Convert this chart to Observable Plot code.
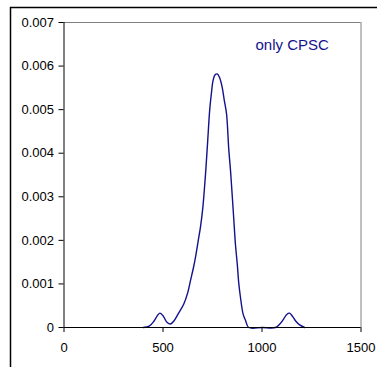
<!DOCTYPE html>
<html><head><meta charset="utf-8">
<script src="https://cdn.jsdelivr.net/npm/d3@7"></script>
<script src="https://cdn.jsdelivr.net/npm/@observablehq/plot@0.6"></script>
<style>body{margin:0;background:#fff;} #c{position:relative;width:377px;height:367px;overflow:hidden;}</style>
</head><body><div id="c"></div>
<script>
const xs = [400,430,455,470,484,500,520,538,555,575,605,625,639,655,664,680,689,700,706,716,726,736,745,753,763,774,787,799,810,821,832,841,850,858,866,875,883,891,905,917,933,1000,1068,1090,1110,1125,1139,1155,1170,1190,1215];
const ys = [0,0.00003,0.00015,0.00026,0.00033,0.00027,0.00012,0.00008,0.00015,0.0003,0.00054,0.0008,0.00108,0.0014,0.00161,0.00205,0.0023,0.0027,0.003,0.0036,0.0043,0.005,0.0054,0.00567,0.0058,0.00582,0.00572,0.00551,0.0052,0.0049,0.0041,0.0036,0.003,0.00245,0.0019,0.00146,0.001,0.0007,0.0003,0.00016,0,0,0,0.00008,0.0002,0.0003,0.00033,0.00025,0.00015,0.00006,0];
const xTicks = [0,500,1000,1500];
const yTicks = [0,0.001,0.002,0.003,0.004,0.005,0.006,0.007];
const yLabels = ["0","0.001","0.002","0.003","0.004","0.005","0.006","0.007"];
const seriesLabel = "only CPSC";
const data = xs.map((x,i)=>({x, y: ys[i]}));
const navy = "#12128c";
const chart = Plot.plot({
  width: 377, height: 367,
  marginLeft: 63.5, marginRight: 16.5, marginTop: 22, marginBottom: 40,
  style: {fontFamily: "'Liberation Sans', Arial, sans-serif", fontSize: "13px", background: "transparent", color: "#000"},
  x: {domain: [0,1500]},
  y: {domain: [0,0.007]},
  marks: [
    Plot.ruleY([0.007], {stroke: "#808080"}),
    Plot.ruleX([1500], {stroke: "#808080"}),
    Plot.line(data, {x: "x", y: "y", stroke: navy, strokeWidth: 1.4, curve: "catmull-rom"}),
    Plot.ruleY([0], {stroke: "#000"}),
    Plot.ruleX([0], {stroke: "#000"}),
    Plot.axisX({ticks: xTicks, tickSize: 5, tickPadding: 10, label: null, fontSize: 13, tickFormat: d => String(d), stroke: "#000"}),
    Plot.axisY({ticks: yTicks, tickSize: 5, tickPadding: 5, label: null, fontSize: 13, tickFormat: (d,i) => yLabels[yTicks.indexOf(d)], stroke: "#000"}),
    Plot.text([seriesLabel], {x: 967, y: 0.00647, text: d => d, textAnchor: "start", fill: navy, fontSize: 15, letterSpacing: "-0.3px"})
  ]
});
d3.select(chart).append("path").attr("d","M10.5,400 V7.5 H400").attr("fill","none").attr("stroke","#000").attr("stroke-width",1.5);
document.getElementById("c").appendChild(chart);
</script></body></html>
